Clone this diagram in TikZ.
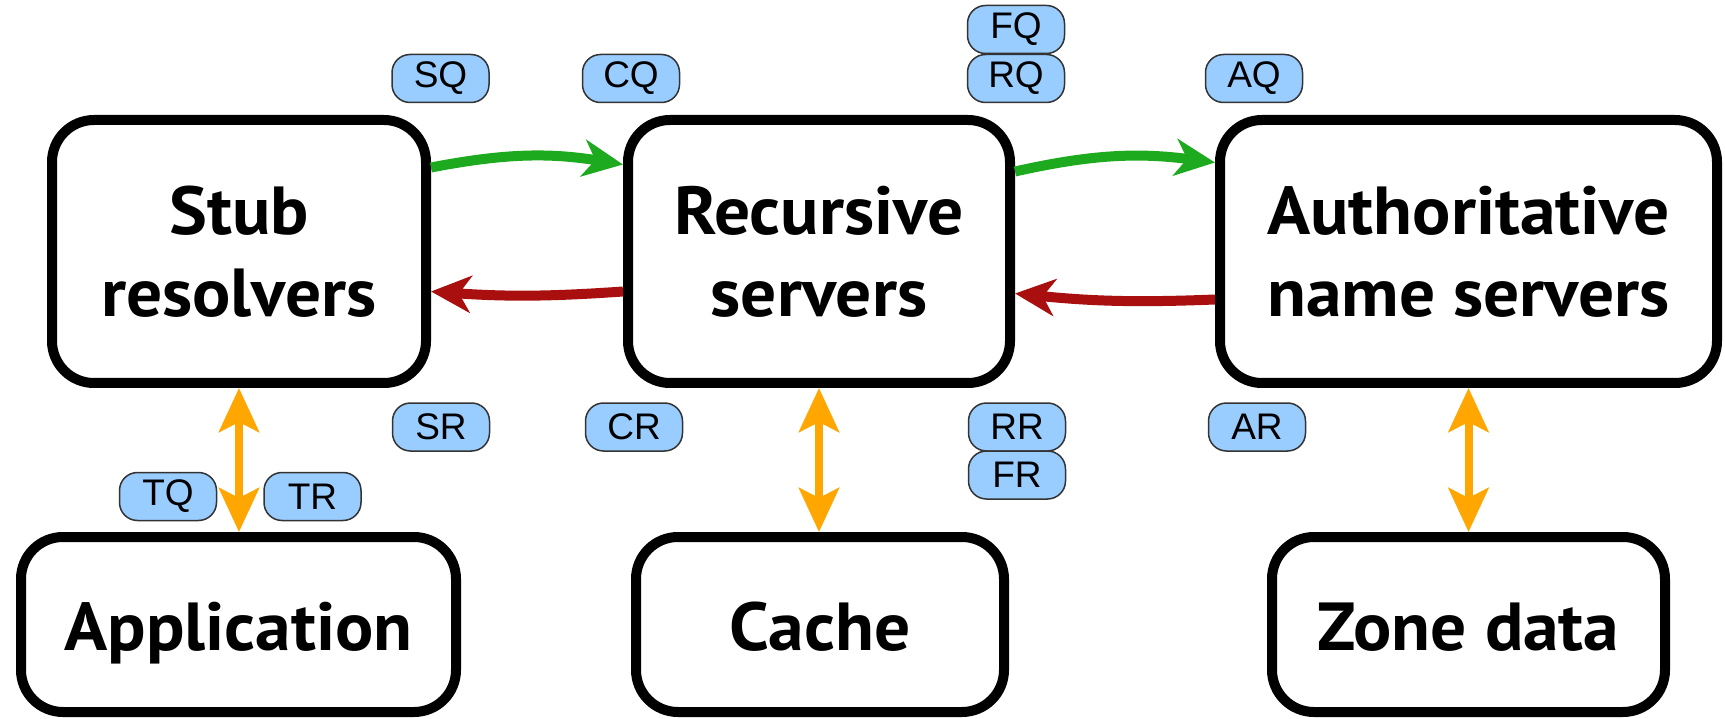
\documentclass[tikz,border=0pt]{standalone}
\usepackage{fontspec}
\newfontfamily\boxfont[FakeStretch=1.05]{PT Sans}
\newfontfamily\tagfont{Liberation Sans}
\usetikzlibrary{arrows.meta,calc}
\definecolor{tagblue}{RGB}{153,204,255}
\definecolor{qgreen}{RGB}{30,170,30}
\definecolor{rred}{RGB}{170,15,15}
\definecolor{lookup}{RGB}{255,166,0}
% fixed line height so that every box label sits at the same place
\newcommand{\firstline}[1]{\raisebox{0pt}[49pt][0pt]{#1}}
\newcommand{\oneline}[1]{\raisebox{0pt}[52pt][0pt]{#1}}
\begin{document}
\begin{tikzpicture}[x=1pt,y=-1pt,
  role/.style={draw=black, line width=10pt, fill=white, rounded corners=42pt,
    align=center, inner sep=0pt,
    font=\boxfont\bfseries\fontsize{68}{82}\selectfont},
  tag/.style={draw=black!80, line width=1.5pt, fill=tagblue, rounded corners=18pt,
    minimum width=97pt, minimum height=48pt, inner sep=0pt,
    font=\tagfont\fontsize{37}{37}\selectfont},
  query/.style={draw=qgreen, line width=10pt,
    -{Stealth[length=40pt,width=37pt,inset=12pt,color=qgreen]}},
  reply/.style={draw=rred, line width=10pt,
    -{Stealth[length=40pt,width=37pt,inset=12pt,color=rred]}},
  local/.style={draw=lookup, line width=8pt,
    {Stealth[length=44pt,width=40pt,inset=10pt,color=lookup]}-{Stealth[length=44pt,width=40pt,inset=10pt,color=lookup]}},
]
\useasboundingbox (0,0) rectangle (1725,719);

% servers
\node[role, minimum width=374pt, minimum height=263pt] (stub) at (239,251.5)
  {\firstline{Stub}\\resolvers};
\node[role, minimum width=382pt, minimum height=263pt] (rec) at (819,251.5)
  {\firstline{Recursive}\\servers};
\node[role, minimum width=497pt, minimum height=263pt] (auth) at (1468.5,251.5)
  {\firstline{Authoritative}\\name servers};

% local data
\node[role, minimum width=435pt, minimum height=175pt] (app) at (238.5,624.5)
  {\oneline{Application}};
\node[role, minimum width=368pt, minimum height=175pt] (cache) at (820,624.5)
  {\oneline{Cache}};
\node[role, minimum width=393pt, minimum height=175pt] (zone) at (1468.5,624.5)
  {\oneline{Zone data}};

% queries and responses
\draw[query] ($(stub.east)+(0,-84)$) to[bend left=10] ($(rec.west)+(0,-87)$);
\draw[reply] ($(rec.west)+(0,40)$) to[bend left=4] ($(stub.east)+(0,40)$);
\draw[query] ($(rec.east)+(0,-80)$) to[bend left=10] ($(auth.west)+(0,-89)$);
\draw[reply] ($(auth.west)+(0,48)$) to[bend left=4] ($(rec.east)+(0,42)$);

\draw[local] (stub.south) -- (stub.south |- app.north);
\draw[local] (rec.south) -- (rec.south |- cache.north);
\draw[local] (auth.south) -- (auth.south |- zone.north);

% measurement points
\node[tag] (sq) at (440.5,78.5) {SQ};
\node[tag] (cq) at (631,78.5) {CQ};
\node[tag] (fq) at (1016,29.5) {FQ};
\node[tag] (rq) at (1016,78.5) {RQ};
\node[tag] (aq) at (1254,78.5) {AQ};
\node[tag] (sr) at (441,427) {SR};
\node[tag] (cr) at (634,427) {CR};
\node[tag] (rr) at (1017,427) {RR};
\node[tag] (fr) at (1017,475) {FR};
\node[tag] (ar) at (1257,427) {AR};
\node[tag] (tq) at (168,496.5) {TQ};
\node[tag] (tr) at (312.5,496.5) {TR};
\end{tikzpicture}
\end{document}
